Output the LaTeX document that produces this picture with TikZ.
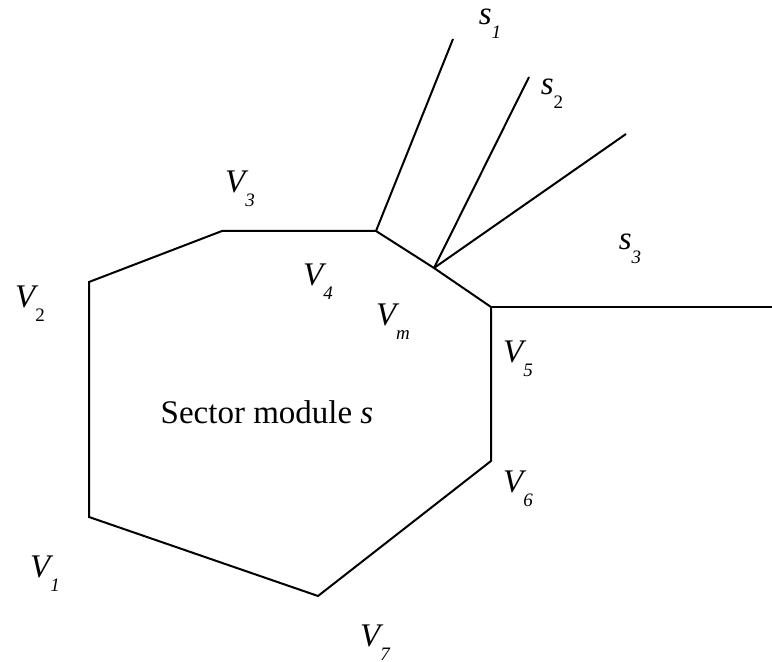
\documentclass[tikz,border=0pt]{standalone}
\usepackage{fontspec}
\setmainfont{Liberation Serif}
\newcommand\lbl[2]{#1\raisebox{-7pt}{\fontsize{9.5}{9.5}\selectfont #2}}

\begin{document}
\begin{tikzpicture}[x=0.5pt,y=-0.5pt,line width=1pt,
  lab/.style={font=\fontsize{16.5}{16.5}\selectfont\itshape,inner sep=0pt}]
\useasboundingbox (0,0) rectangle (772,662);
% corners of the sector module
\coordinate (v1) at (89,517);
\coordinate (v2) at (89,282);
\coordinate (v3) at (222,231);
\coordinate (v4) at (376,231);
\coordinate (vm) at (434,268);
\coordinate (v5) at (491,307);
\coordinate (v6) at (491,461);
\coordinate (v7) at (318,596);
% outer ends of the borders
\coordinate (e1) at (453,39);
\coordinate (e2) at (529,77);
\coordinate (e3) at (626,134);
\coordinate (e4) at (772,307);
\draw (v1)--(v2)--(v3)--(v4)--(vm)--(v5)--(v6)--(v7)--cycle;
\draw (v4)--(e1);
\draw (vm)--(e2);
\draw (vm)--(e3);
\draw (v5)--(e4);
% labels
\node[lab] (l1) at (45,574) {\lbl{V}{1}};
\node[lab] (l2) at (30,304) {\lbl{V}{\upshape 2}};
\node[lab] (l3) at (240,189) {\lbl{V}{3}};
\node[lab] (l4) at (318,282) {\lbl{V}{4}};
\node[lab] (lm) at (393,322) {\lbl{V}{m}};
\node[lab] (l5) at (518,359) {\lbl{V}{5}};
\node[lab] (l6) at (518,489) {\lbl{V}{6}};
\node[lab] (l7) at (375,643) {\lbl{V}{7}};
\node[lab] (s1) at (490,24) {\lbl{s}{1}};
\node[lab] (s2) at (552,94) {\lbl{s}{\upshape 2}};
\node[lab] (s3) at (630,249) {\lbl{s}{3}};
\node[font=\fontsize{16.5}{16.5}\selectfont] (sec) at (267,412) {Sector module \textit{s}};
\end{tikzpicture}
\end{document}
